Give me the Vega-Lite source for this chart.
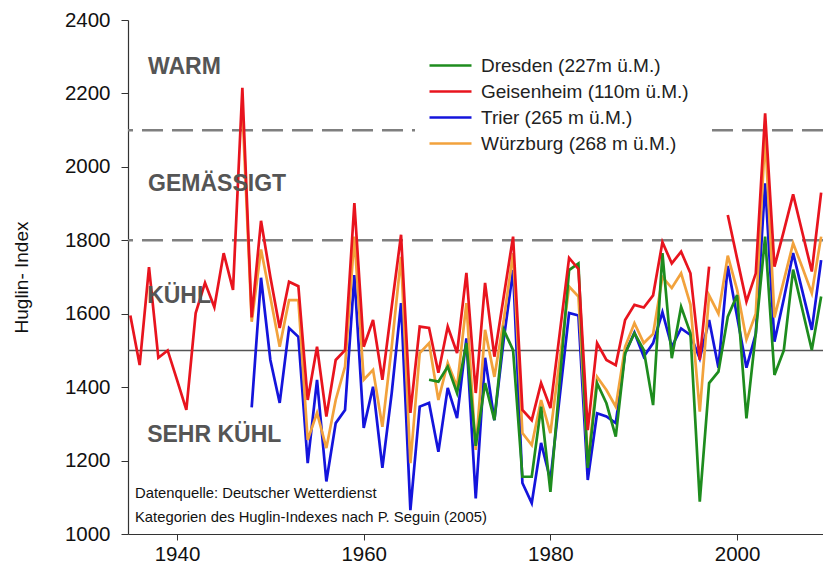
{
  "$schema": "https://vega.github.io/schema/vega-lite/v6.json",
  "width": 695,
  "height": 514,
  "autosize": {"type": "none"},
  "padding": {"left": 128, "top": 20, "right": 0, "bottom": 47},
  "background": "white",
  "config": {"view": {"stroke": null}, "font": "Liberation Sans"},
  "datasets": {
    "huglin": [
      {"station":"Geisenheim","year":1935,"value":1595},{"station":"Geisenheim","year":1936,"value":1460},{"station":"Geisenheim","year":1937,"value":1727},{"station":"Geisenheim","year":1938,"value":1480},{"station":"Geisenheim","year":1939,"value":1500},{"station":"Geisenheim","year":1940,"value":1420},{"station":"Geisenheim","year":1941,"value":1338},{"station":"Geisenheim","year":1942,"value":1602},{"station":"Geisenheim","year":1943,"value":1684},{"station":"Geisenheim","year":1944,"value":1618},{"station":"Geisenheim","year":1945,"value":1765},{"station":"Geisenheim","year":1946,"value":1665},{"station":"Geisenheim","year":1947,"value":2215},{"station":"Geisenheim","year":1948,"value":1590},{"station":"Geisenheim","year":1949,"value":1853},{"station":"Geisenheim","year":1950,"value":1700},{"station":"Geisenheim","year":1951,"value":1561},{"station":"Geisenheim","year":1952,"value":1687},{"station":"Geisenheim","year":1953,"value":1675},{"station":"Geisenheim","year":1954,"value":1365},{"station":"Geisenheim","year":1955,"value":1510},{"station":"Geisenheim","year":1956,"value":1320},{"station":"Geisenheim","year":1957,"value":1474},{"station":"Geisenheim","year":1958,"value":1501},{"station":"Geisenheim","year":1959,"value":1901},{"station":"Geisenheim","year":1960,"value":1510},{"station":"Geisenheim","year":1961,"value":1583},{"station":"Geisenheim","year":1962,"value":1420},{"station":"Geisenheim","year":1963,"value":1619},{"station":"Geisenheim","year":1964,"value":1815},{"station":"Geisenheim","year":1965,"value":1330},{"station":"Geisenheim","year":1966,"value":1565},{"station":"Geisenheim","year":1967,"value":1561},{"station":"Geisenheim","year":1968,"value":1439},{"station":"Geisenheim","year":1969,"value":1565},{"station":"Geisenheim","year":1970,"value":1493},{"station":"Geisenheim","year":1971,"value":1711},{"station":"Geisenheim","year":1972,"value":1384},{"station":"Geisenheim","year":1973,"value":1684},{"station":"Geisenheim","year":1974,"value":1483},{"station":"Geisenheim","year":1975,"value":1647},{"station":"Geisenheim","year":1976,"value":1810},{"station":"Geisenheim","year":1977,"value":1338},{"station":"Geisenheim","year":1978,"value":1310},{"station":"Geisenheim","year":1979,"value":1411},{"station":"Geisenheim","year":1980,"value":1343},{"station":"Geisenheim","year":1981,"value":1547},{"station":"Geisenheim","year":1982,"value":1752},{"station":"Geisenheim","year":1983,"value":1722},{"station":"Geisenheim","year":1984,"value":1283},{"station":"Geisenheim","year":1985,"value":1520},{"station":"Geisenheim","year":1986,"value":1474},{"station":"Geisenheim","year":1987,"value":1460},{"station":"Geisenheim","year":1988,"value":1583},{"station":"Geisenheim","year":1989,"value":1624},{"station":"Geisenheim","year":1990,"value":1617},{"station":"Geisenheim","year":1991,"value":1650},{"station":"Geisenheim","year":1992,"value":1795},{"station":"Geisenheim","year":1993,"value":1737},{"station":"Geisenheim","year":1994,"value":1769},{"station":"Geisenheim","year":1995,"value":1710},{"station":"Geisenheim","year":1996,"value":1474},{"station":"Geisenheim","year":1997,"value":1728},{"station":"Geisenheim","year":1998,"value":null},{"station":"Geisenheim","year":1999,"value":1869},{"station":"Geisenheim","year":2000,"value":1750},{"station":"Geisenheim","year":2001,"value":1633},{"station":"Geisenheim","year":2002,"value":1710},{"station":"Geisenheim","year":2003,"value":2146},{"station":"Geisenheim","year":2004,"value":1728},{"station":"Geisenheim","year":2005,"value":1825},{"station":"Geisenheim","year":2006,"value":1925},{"station":"Geisenheim","year":2007,"value":1820},{"station":"Geisenheim","year":2008,"value":1715},{"station":"Geisenheim","year":2009,"value":1930},
      {"station":"Würzburg","year":1947,"value":2160},{"station":"Würzburg","year":1948,"value":1578},{"station":"Würzburg","year":1949,"value":1775},{"station":"Würzburg","year":1950,"value":1645},{"station":"Würzburg","year":1951,"value":1510},{"station":"Würzburg","year":1952,"value":1637},{"station":"Würzburg","year":1953,"value":1637},{"station":"Würzburg","year":1954,"value":1256},{"station":"Würzburg","year":1955,"value":1330},{"station":"Würzburg","year":1956,"value":1234},{"station":"Würzburg","year":1957,"value":1365},{"station":"Würzburg","year":1958,"value":1456},{"station":"Würzburg","year":1959,"value":1810},{"station":"Würzburg","year":1960,"value":1420},{"station":"Würzburg","year":1961,"value":1447},{"station":"Würzburg","year":1962,"value":1292},{"station":"Würzburg","year":1963,"value":1510},{"station":"Würzburg","year":1964,"value":1755},{"station":"Würzburg","year":1965,"value":1193},{"station":"Würzburg","year":1966,"value":1493},{"station":"Würzburg","year":1967,"value":1520},{"station":"Würzburg","year":1968,"value":1365},{"station":"Würzburg","year":1969,"value":1466},{"station":"Würzburg","year":1970,"value":1401},{"station":"Würzburg","year":1971,"value":1629},{"station":"Würzburg","year":1972,"value":1229},{"station":"Würzburg","year":1973,"value":1556},{"station":"Würzburg","year":1974,"value":1428},{"station":"Würzburg","year":1975,"value":1583},{"station":"Würzburg","year":1976,"value":1765},{"station":"Würzburg","year":1977,"value":1275},{"station":"Würzburg","year":1978,"value":1242},{"station":"Würzburg","year":1979,"value":1365},{"station":"Würzburg","year":1980,"value":1275},{"station":"Würzburg","year":1981,"value":1475},{"station":"Würzburg","year":1982,"value":1674},{"station":"Würzburg","year":1983,"value":1647},{"station":"Würzburg","year":1984,"value":1193},{"station":"Würzburg","year":1985,"value":1428},{"station":"Würzburg","year":1986,"value":1392},{"station":"Würzburg","year":1987,"value":1347},{"station":"Würzburg","year":1988,"value":1510},{"station":"Würzburg","year":1989,"value":1574},{"station":"Würzburg","year":1990,"value":1520},{"station":"Würzburg","year":1991,"value":1545},{"station":"Würzburg","year":1992,"value":1700},{"station":"Würzburg","year":1993,"value":1670},{"station":"Würzburg","year":1994,"value":1710},{"station":"Würzburg","year":1995,"value":1625},{"station":"Würzburg","year":1996,"value":1333},{"station":"Würzburg","year":1997,"value":1650},{"station":"Würzburg","year":1998,"value":1600},{"station":"Würzburg","year":1999,"value":1758},{"station":"Würzburg","year":2000,"value":1665},{"station":"Würzburg","year":2001,"value":1530},{"station":"Würzburg","year":2002,"value":1600},{"station":"Würzburg","year":2003,"value":2087},{"station":"Würzburg","year":2004,"value":1590},{"station":"Würzburg","year":2005,"value":1690},{"station":"Würzburg","year":2006,"value":1792},{"station":"Würzburg","year":2007,"value":1725},{"station":"Würzburg","year":2008,"value":1656},{"station":"Würzburg","year":2009,"value":1810},
      {"station":"Trier","year":1948,"value":1345},{"station":"Trier","year":1949,"value":1698},{"station":"Trier","year":1950,"value":1474},{"station":"Trier","year":1951,"value":1357},{"station":"Trier","year":1952,"value":1561},{"station":"Trier","year":1953,"value":1537},{"station":"Trier","year":1954,"value":1193},{"station":"Trier","year":1955,"value":1420},{"station":"Trier","year":1956,"value":1143},{"station":"Trier","year":1957,"value":1302},{"station":"Trier","year":1958,"value":1338},{"station":"Trier","year":1959,"value":1705},{"station":"Trier","year":1960,"value":1289},{"station":"Trier","year":1961,"value":1401},{"station":"Trier","year":1962,"value":1180},{"station":"Trier","year":1963,"value":1384},{"station":"Trier","year":1964,"value":1629},{"station":"Trier","year":1965,"value":1065},{"station":"Trier","year":1966,"value":1347},{"station":"Trier","year":1967,"value":1357},{"station":"Trier","year":1968,"value":1224},{"station":"Trier","year":1969,"value":1398},{"station":"Trier","year":1970,"value":1316},{"station":"Trier","year":1971,"value":1533},{"station":"Trier","year":1972,"value":1097},{"station":"Trier","year":1973,"value":1480},{"station":"Trier","year":1974,"value":1310},{"station":"Trier","year":1975,"value":1530},{"station":"Trier","year":1976,"value":1719},{"station":"Trier","year":1977,"value":1139},{"station":"Trier","year":1978,"value":1084},{"station":"Trier","year":1979,"value":1248},{"station":"Trier","year":1980,"value":1147},{"station":"Trier","year":1981,"value":1375},{"station":"Trier","year":1982,"value":1602},{"station":"Trier","year":1983,"value":1595},{"station":"Trier","year":1984,"value":1147},{"station":"Trier","year":1985,"value":1329},{"station":"Trier","year":1986,"value":1320},{"station":"Trier","year":1987,"value":1302},{"station":"Trier","year":1988,"value":1492},{"station":"Trier","year":1989,"value":1549},{"station":"Trier","year":1990,"value":1483},{"station":"Trier","year":1991,"value":1520},{"station":"Trier","year":1992,"value":1604},{"station":"Trier","year":1993,"value":1510},{"station":"Trier","year":1994,"value":1560},{"station":"Trier","year":1995,"value":1542},{"station":"Trier","year":1996,"value":1478},{"station":"Trier","year":1997,"value":1583},{"station":"Trier","year":1998,"value":1453},{"station":"Trier","year":1999,"value":1730},{"station":"Trier","year":2000,"value":1592},{"station":"Trier","year":2001,"value":1453},{"station":"Trier","year":2002,"value":1545},{"station":"Trier","year":2003,"value":1955},{"station":"Trier","year":2004,"value":1524},{"station":"Trier","year":2005,"value":1640},{"station":"Trier","year":2006,"value":1765},{"station":"Trier","year":2007,"value":1660},{"station":"Trier","year":2008,"value":1556},{"station":"Trier","year":2009,"value":1746},
      {"station":"Dresden","year":1967,"value":1420},{"station":"Dresden","year":1968,"value":1415},{"station":"Dresden","year":1969,"value":1456},{"station":"Dresden","year":1970,"value":1384},{"station":"Dresden","year":1971,"value":1520},{"station":"Dresden","year":1972,"value":1240},{"station":"Dresden","year":1973,"value":1411},{"station":"Dresden","year":1974,"value":1310},{"station":"Dresden","year":1975,"value":1556},{"station":"Dresden","year":1976,"value":1501},{"station":"Dresden","year":1977,"value":1156},{"station":"Dresden","year":1978,"value":1156},{"station":"Dresden","year":1979,"value":1347},{"station":"Dresden","year":1980,"value":1115},{"station":"Dresden","year":1981,"value":1417},{"station":"Dresden","year":1982,"value":1719},{"station":"Dresden","year":1983,"value":1737},{"station":"Dresden","year":1984,"value":1180},{"station":"Dresden","year":1985,"value":1411},{"station":"Dresden","year":1986,"value":1356},{"station":"Dresden","year":1987,"value":1265},{"station":"Dresden","year":1988,"value":1492},{"station":"Dresden","year":1989,"value":1547},{"station":"Dresden","year":1990,"value":1501},{"station":"Dresden","year":1991,"value":1351},{"station":"Dresden","year":1992,"value":1765},{"station":"Dresden","year":1993,"value":1479},{"station":"Dresden","year":1994,"value":1619},{"station":"Dresden","year":1995,"value":1547},{"station":"Dresden","year":1996,"value":1088},{"station":"Dresden","year":1997,"value":1411},{"station":"Dresden","year":1998,"value":1442},{"station":"Dresden","year":1999,"value":1592},{"station":"Dresden","year":2000,"value":1651},{"station":"Dresden","year":2001,"value":1315},{"station":"Dresden","year":2002,"value":1547},{"station":"Dresden","year":2003,"value":1810},{"station":"Dresden","year":2004,"value":1433},{"station":"Dresden","year":2005,"value":1500},{"station":"Dresden","year":2006,"value":1720},{"station":"Dresden","year":2007,"value":1610},{"station":"Dresden","year":2008,"value":1501},{"station":"Dresden","year":2009,"value":1647}
    ],
    "refs": [
      {"kind":"dashed","value":2100},{"kind":"dashed","value":1800},{"kind":"solid","value":1500}
    ],
    "categories": [
      {"label":"WARM","year":1936.9,"value":2272},
      {"label":"GEMÄSSIGT","year":1936.9,"value":1953},
      {"label":"KÜHL","year":1936.8,"value":1648},
      {"label":"SEHR KÜHL","year":1936.8,"value":1270}
    ],
    "notes": [
      {"label":"Datenquelle: Deutscher Wetterdienst","year":1935.5,"value":1109},
      {"label":"Kategorien des Huglin-Indexes nach P. Seguin (2005)","year":1935.5,"value":1044}
    ]
  },
  "encoding": {
    "x": {"field":"year","type":"quantitative","scale":{"domain":[1934.75,2009.2],"nice":false,"zero":false},
      "axis":{"values":[1940,1960,1980,2000],"format":"d","title":null,"grid":false,"labelFontSize":20.5,"labelColor":"#111","tickSize":6,"tickColor":"#333","domainColor":"#333","domainWidth":1.2,"labelPadding":4,"labelFont":"Liberation Sans"}},
    "y": {"field":"value","type":"quantitative","scale":{"domain":[1000,2400],"nice":false,"zero":false},
      "axis":{"values":[1000,1200,1400,1600,1800,2000,2200,2400],"format":"d","title":"Huglin- Index","titleFontSize":19,"titleFontWeight":"normal","titleColor":"#111","titlePadding":33,"titleFont":"Liberation Sans","grid":false,"labelFontSize":20.5,"labelColor":"#111","tickSize":7,"tickColor":"#333","domainColor":"#333","domainWidth":1.2,"labelPadding":11,"labelFont":"Liberation Sans"}}
  },
  "layer": [
    {"data":{"name":"refs"},"transform":[{"filter":"datum.kind == 'dashed'"}],
     "mark":{"type":"rule","color":"#7f7f7f","strokeWidth":2.5,"strokeDash":[21,9]},
     "encoding":{"x":null,"y":{"field":"value","type":"quantitative"}}},
    {"data":{"name":"refs"},"transform":[{"filter":"datum.kind == 'solid'"}],
     "mark":{"type":"rule","color":"#555555","strokeWidth":1.6},
     "encoding":{"x":null,"y":{"field":"value","type":"quantitative"}}},
    {"data":{"name":"huglin"},"transform":[{"filter":"datum.station == 'Trier'"}],
     "mark":{"type":"line","strokeWidth":2.7,"clip":true,"invalid":"break-paths-show-domains"},
     "encoding":{"color":{"field":"station","type":"nominal","scale":{"domain":["Dresden","Geisenheim","Trier","Würzburg"],"range":["#1e8c1e","#e8141e","#1414dc","#f2a23c"]},
       "legend":{"orient":"none","legendX":287,"legendY":10,"title":null,"symbolType":"M-1.5,0L1.5,0","symbolSize":784,"symbolStrokeWidth":2.5,"labelFontSize":19,"labelFont":"Liberation Sans","labelColor":"#222","labelLimit":400,"fillColor":"white","padding":20,"rowPadding":0,"labelOffset":15,
         "labelExpr":"{'Dresden':'Dresden (227m ü.M.)','Geisenheim':'Geisenheim (110m ü.M.)','Trier':'Trier (265 m ü.M.)','Würzburg':'Würzburg (268 m ü.M.)'}[datum.label]"}}}},
    {"data":{"name":"huglin"},"transform":[{"filter":"datum.station == 'Würzburg'"}],
     "mark":{"type":"line","strokeWidth":2.7,"clip":true,"invalid":"break-paths-show-domains"},
     "encoding":{"color":{"field":"station","type":"nominal"}}},
    {"data":{"name":"huglin"},"transform":[{"filter":"datum.station == 'Dresden'"}],
     "mark":{"type":"line","strokeWidth":2.7,"clip":true,"invalid":"break-paths-show-domains"},
     "encoding":{"color":{"field":"station","type":"nominal"}}},
    {"data":{"name":"huglin"},"transform":[{"filter":"datum.station == 'Geisenheim'"}],
     "mark":{"type":"line","strokeWidth":2.7,"clip":true,"invalid":"break-paths-show-domains"},
     "encoding":{"color":{"field":"station","type":"nominal"}}},
    {"data":{"name":"categories"},
     "mark":{"type":"text","align":"left","baseline":"middle","fontSize":23,"fontWeight":"bold","color":"#555555","font":"Liberation Sans"},
     "encoding":{"text":{"field":"label"}}},
    {"data":{"name":"notes"},
     "mark":{"type":"text","align":"left","baseline":"middle","fontSize":14.8,"color":"#111","font":"Liberation Sans"},
     "encoding":{"text":{"field":"label"}}}
  ]
}
